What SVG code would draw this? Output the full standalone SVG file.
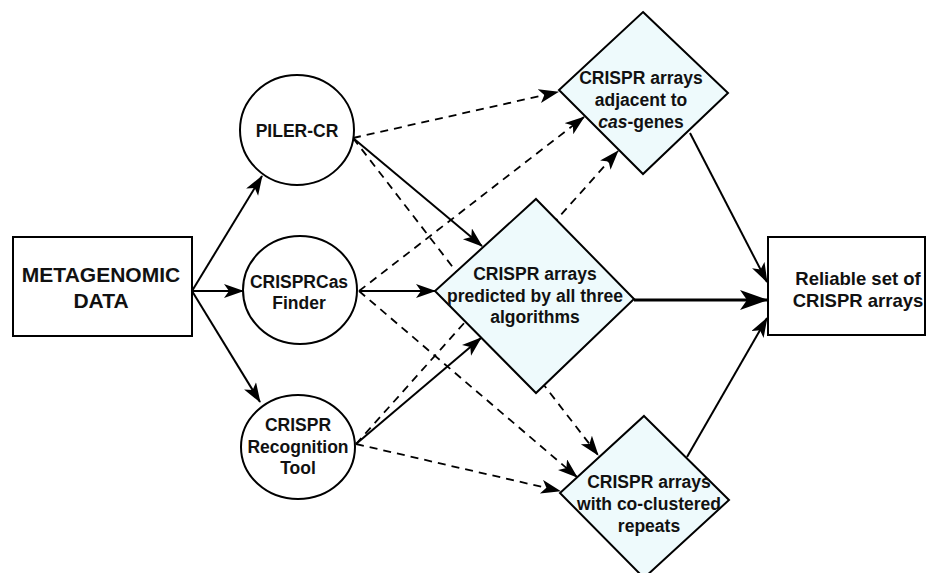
<svg xmlns="http://www.w3.org/2000/svg" width="927" height="573" viewBox="0 0 927 573">
<style>
.box{fill:#fff;stroke:#000;stroke-width:2}
.dia{fill:#eefafc;stroke:#000;stroke-width:2}
.t{font-family:"Liberation Sans",Arial,sans-serif;font-weight:bold;fill:#111;text-anchor:middle}
.s{font-size:17.5px}
.ln{fill:none;stroke:#000;stroke-width:2}
.dash{fill:none;stroke:#000;stroke-width:1.8;stroke-dasharray:8 6}
.thick{fill:none;stroke:#000;stroke-width:3}
</style>
<defs>
<marker id="ah" markerUnits="userSpaceOnUse" markerWidth="22" markerHeight="16" refX="19" refY="7" orient="auto">
<path d="M0,0 L20,7 L0,14 L5,7 Z" fill="#000"/>
</marker>
<marker id="ahb" markerUnits="userSpaceOnUse" markerWidth="30" markerHeight="22" refX="27" refY="10" orient="auto">
<path d="M0,0 L28,10 L0,20 L7,10 Z" fill="#000"/>
</marker>
</defs>
<rect width="927" height="573" fill="#fff"/>
<g id="connectors">
<line class="ln" x1="192" y1="291" x2="262" y2="176" marker-end="url(#ah)"/>
<line class="ln" x1="192" y1="291" x2="243" y2="291" marker-end="url(#ah)"/>
<line class="ln" x1="192" y1="291" x2="260" y2="402" marker-end="url(#ah)"/>
<line class="ln" x1="353" y1="138" x2="482" y2="246" marker-end="url(#ah)"/>
<line class="dash" x1="353" y1="138" x2="558" y2="92" marker-end="url(#ah)"/>
<line class="dash" x1="353" y1="138" x2="598" y2="455" marker-end="url(#ah)"/>
<line class="ln" x1="359" y1="291" x2="435" y2="291" marker-end="url(#ah)"/>
<line class="dash" x1="359" y1="291" x2="584" y2="117" marker-end="url(#ah)"/>
<line class="dash" x1="359" y1="291" x2="577" y2="477" marker-end="url(#ah)"/>
<line class="ln" x1="356" y1="444" x2="481" y2="338" marker-end="url(#ah)"/>
<line class="dash" x1="356" y1="444" x2="618" y2="151" marker-end="url(#ah)"/>
<line class="dash" x1="356" y1="444" x2="560" y2="491" marker-end="url(#ah)"/>
<line class="ln" x1="690" y1="133" x2="767" y2="282" marker-end="url(#ah)"/>
<line class="thick" x1="634" y1="300" x2="767" y2="300" marker-end="url(#ahb)"/>
<line class="ln" x1="687" y1="457" x2="767" y2="318" marker-end="url(#ah)"/>
</g>
<g id="metagenomic">
<rect class="box" x="13" y="237" width="179" height="99"/>
<text class="t" x="101" y="282" font-size="21">METAGENOMIC</text>
<text class="t" x="101" y="308" font-size="21">DATA</text>
</g>
<g id="piler">
<ellipse class="box" cx="297" cy="130" rx="57" ry="55"/>
<text class="t s" x="297" y="137">PILER-CR</text>
</g>
<g id="crisprcas">
<ellipse class="box" cx="300" cy="290" rx="57" ry="54"/>
<text class="t s" x="299" y="288">CRISPRCas</text>
<text class="t s" x="299" y="309">Finder</text>
</g>
<g id="crt">
<ellipse class="box" cx="298" cy="447" rx="57" ry="52"/>
<text class="t s" x="298" y="431">CRISPR</text>
<text class="t s" x="298" y="453">Recognition</text>
<text class="t s" x="298" y="474">Tool</text>
</g>
<g id="adjacent">
<polygon class="dia" points="643,12 728,93 643,174 559,90"/>
<text class="t s" x="641" y="84">CRISPR arrays</text>
<text class="t s" x="641" y="106">adjacent to</text>
<text class="t s" x="641" y="128"><tspan font-style="italic">cas</tspan>-genes</text>
</g>
<g id="all-three">
<polygon class="dia" points="536,199 634,299 536,393 435,291"/>
<text class="t s" x="535" y="280">CRISPR arrays</text>
<text class="t s" x="535" y="302">predicted by all three</text>
<text class="t s" x="535" y="323">algorithms</text>
</g>
<g id="co-clustered">
<polygon class="dia" points="644,416 729,500 644,578 560,493"/>
<text class="t s" x="649" y="488">CRISPR arrays</text>
<text class="t s" x="649" y="510">with co-clustered</text>
<text class="t s" x="649" y="532">repeats</text>
</g>
<g id="reliable">
<rect class="box" x="768" y="237" width="157" height="98"/>
<text class="t" x="858" y="285" font-size="18.5">Reliable set of</text>
<text class="t" x="858" y="307" font-size="18.5">CRISPR arrays</text>
</g>
</svg>
